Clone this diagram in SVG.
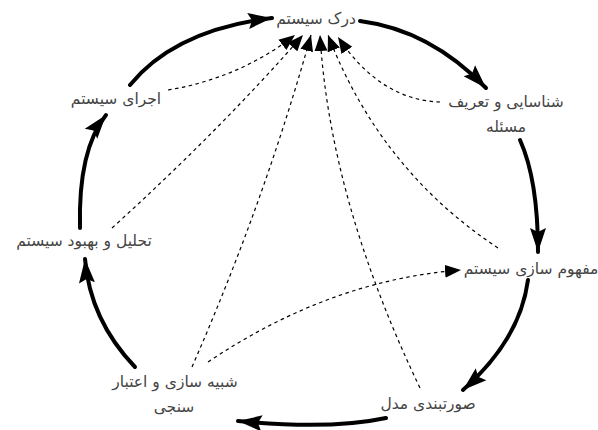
<svg xmlns="http://www.w3.org/2000/svg" width="598" height="430" viewBox="0 0 598 430">
<style>
text{font-family:"DejaVu Sans","Noto Sans",sans-serif;font-size:15.5px;fill:#444;text-anchor:middle}
.solid{fill:none;stroke:#000;stroke-width:4;stroke-linecap:round}
.dash{fill:none;stroke:#000;stroke-width:1.2;stroke-dasharray:3.5 3.5}
</style>
<defs>
<marker id="big" markerUnits="userSpaceOnUse" markerWidth="26" markerHeight="20" refX="24" refY="10" orient="auto" viewBox="0 0 26 20">
<path d="M0,2 L24,10 L0,18 L4,10 Z" fill="#000"/>
</marker>
<marker id="small" markerUnits="userSpaceOnUse" markerWidth="18" markerHeight="14" refX="16" refY="7" orient="auto" viewBox="0 0 18 14">
<path d="M0,0.5 L16,7 L0,13.5 Z" fill="#000"/>
</marker>
</defs>
<rect width="598" height="430" fill="#fff"/>
<g id="connectors">
<path class="solid" d="M360,21 Q430,30 486,88" marker-end="url(#big)"/>
<path class="solid" d="M520,140 Q538,180 538,252" marker-end="url(#big)"/>
<path class="solid" d="M528,280 Q520,340 463,390" marker-end="url(#big)"/>
<path class="solid" d="M386,418 Q330,430 238,421" marker-end="url(#big)"/>
<path class="solid" d="M135,367 Q90,320 85,259" marker-end="url(#big)"/>
<path class="solid" d="M80,228 Q78,150 106,115" marker-end="url(#big)"/>
<path class="solid" d="M130,85 Q175,30 272,18" marker-end="url(#big)"/>
<path class="dash" d="M168,90 Q240,78 295,35" marker-end="url(#small)"/>
<path class="dash" d="M112,228 Q220,130 303,35" marker-end="url(#small)"/>
<path class="dash" d="M192,367 Q265,200 311,35" marker-end="url(#small)"/>
<path class="dash" d="M420,388 Q330,200 320,35" marker-end="url(#small)"/>
<path class="dash" d="M498,248 Q380,170 328,35" marker-end="url(#small)"/>
<path class="dash" d="M440,102 Q380,100 338,37" marker-end="url(#small)"/>
<path class="dash" d="M208,362 Q330,280 461,270" marker-end="url(#small)"/>
</g>
<g id="n1"><text x="316" y="24">درک سیستم</text></g>
<g id="n2"><text x="506" y="107">شناسایی و تعریف</text><text x="506" y="132">مسئله</text></g>
<g id="n3"><text x="531" y="274">مفهوم سازی سیستم</text></g>
<g id="n4"><text x="428" y="409">صورتبندی مدل</text></g>
<g id="n5"><text x="175" y="387">شبیه سازی و اعتبار</text><text x="174" y="412">سنجی</text></g>
<g id="n6"><text x="84" y="246">تحلیل و بهبود سیستم</text></g>
<g id="n7"><text x="116" y="104">اجرای سیستم</text></g>
</svg>
